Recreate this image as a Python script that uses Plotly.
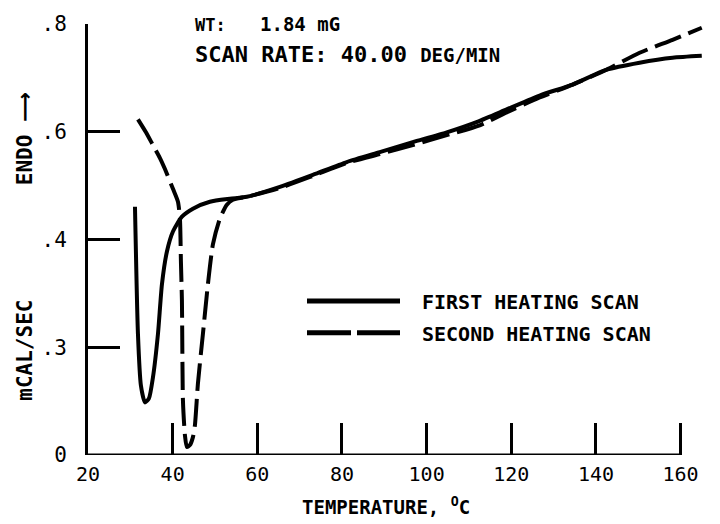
import plotly.graph_objects as go

# ---- data (temperature in deg C, signal in axis units where ticks sit at 0..4) ----
first_temp = [31.1, 31.8, 32.5, 33.46, 34.4, 35.34, 36.53, 37.47, 38.65, 40.07, 42.19, 44.79,
              48.8, 53.52, 57.54, 65.33, 73.12, 81.14, 88.93, 96.72, 104.75, 112.1, 118.91,
              126.7, 134.49, 142.52, 150.31, 158.1, 165.0]
first_sig = [2.304, 1.124, 0.645, 0.488, 0.525, 0.719, 1.124, 1.585, 1.889, 2.074, 2.212, 2.286,
             2.35, 2.378, 2.396, 2.488, 2.599, 2.719, 2.811, 2.903, 2.995, 3.095, 3.207,
             3.336, 3.438, 3.576, 3.641, 3.687, 3.705]

second_temp = [31.8, 33.69, 35.34, 37.0, 38.18, 40.07, 41.25, 41.72, 41.95, 42.19, 42.43, 42.9,
               43.37, 44.08, 44.79, 45.26, 45.97, 47.15, 48.33, 49.51, 51.16, 52.81, 54.23,
               57.54, 65.33, 73.12, 81.14, 88.93, 96.72, 104.75, 112.54, 118.91, 126.7,
               134.49, 142.52, 150.31, 158.1, 165.0]
second_sig = [3.115, 2.995, 2.876, 2.756, 2.654, 2.47, 2.35, 2.194, 1.797, 1.429, 0.507, 0.184,
              0.074, 0.092, 0.166, 0.276, 0.664, 1.124, 1.585, 1.954, 2.194, 2.323, 2.369,
              2.396, 2.479, 2.59, 2.71, 2.793, 2.876, 2.968, 3.06, 3.18, 3.318,
              3.438, 3.576, 3.733, 3.853, 3.965]

x_ticks = [20, 40, 60, 80, 100, 120, 140, 160]
y_tick_pos = [0, 1, 2, 3, 4]
y_tick_text = ["0", ".3", ".4", ".6", ".8"]
series_names = ["FIRST HEATING SCAN", "SECOND HEATING SCAN"]

FONT = "DejaVu Sans Mono, Liberation Mono, monospace"
W, H = 720, 524
L, R, T, B = 88, 14, 21, 69
XR = [20, 166]
YR = [0, 4]


def px(xp):
    return (xp - L) / (W - L - R)


def py(yp):
    return (H - B - yp) / (H - T - B)


fig = go.Figure()
fig.add_trace(go.Scatter(x=first_temp, y=first_sig, mode="lines", name=series_names[0],
                         line=dict(color="black", width=4, shape="spline", smoothing=0.6),
                         showlegend=False))
fig.add_trace(go.Scatter(x=second_temp, y=second_sig, mode="lines", name=series_names[1],
                         line=dict(color="black", width=4, dash="28px,8px", shape="spline",
                                   smoothing=0.6),
                         showlegend=False))

# x axis baseline ending at 160
fig.add_shape(type="line", xref="x", yref="y", x0=20, x1=160, y0=0, y1=0,
              line=dict(color="black", width=3))

# legend drawn manually
fig.add_shape(type="line", xref="paper", yref="paper", x0=px(307), x1=px(400), y0=py(300),
              y1=py(300), line=dict(color="black", width=5))
fig.add_shape(type="line", xref="paper", yref="paper", x0=px(307), x1=px(400), y0=py(332),
              y1=py(332), line=dict(color="black", width=5, dash="44px,6px"))

annos = [
    dict(x=px(420), y=py(301), text=series_names[0], xanchor="left", size=20),
    dict(x=px(420), y=py(333), text=series_names[1], xanchor="left", size=20),
    dict(x=px(193), y=py(21),
         text="<span style='font-size:17px'>WT:</span>&nbsp;&nbsp; 1.84 <span style='font-size:19px'>mG</span>",
         xanchor="left", size=19),
    dict(x=px(193), y=py(52),
         text="SCAN RATE:&nbsp;40.00 <span style='font-size:19px'>DEG/MIN</span>",
         xanchor="left", size=22),
    dict(x=px(386), y=py(506), text="TEMPERATURE, <sup>O</sup>C", xanchor="center", size=19),
    dict(x=px(25), y=py(137),
         text="ENDO <span style='font-family:DejaVu Sans'>⟶</span>",
         xanchor="center", size=21, angle=-90),
    dict(x=px(25), y=py(350), text="mCAL/SEC", xanchor="center", size=21, angle=-90),
]
for a in annos:
    fig.add_annotation(x=a["x"], y=a["y"], xref="paper", yref="paper", text=a["text"],
                       showarrow=False, xanchor=a["xanchor"], yanchor="middle",
                       textangle=a.get("angle", 0),
                       font=dict(family=FONT, size=a["size"], color="black", weight="bold"))

fig.update_xaxes(range=XR, tickvals=x_ticks, ticktext=[str(v) for v in x_ticks],
                 ticks="inside", ticklen=32, tickwidth=2.5, tickcolor="black",
                 showline=False, showgrid=False, zeroline=False,
                 tickfont=dict(family=FONT, size=20, color="black"), ticklabelstandoff=5)
fig.update_yaxes(range=YR, tickvals=y_tick_pos, ticktext=y_tick_text,
                 ticks="inside", ticklen=32, tickwidth=2.5, tickcolor="black",
                 showline=True, linewidth=3, linecolor="black", showgrid=False, zeroline=False,
                 tickfont=dict(family=FONT, size=21, color="black"), ticklabelstandoff=14)

fig.update_layout(width=W, height=H, margin=dict(l=L, r=R, t=T, b=B),
                  plot_bgcolor="white", paper_bgcolor="white", showlegend=False)

fig.write_html("out.html", config={"displayModeBar": False},
               post_script="document.body.style.margin='0px';")
